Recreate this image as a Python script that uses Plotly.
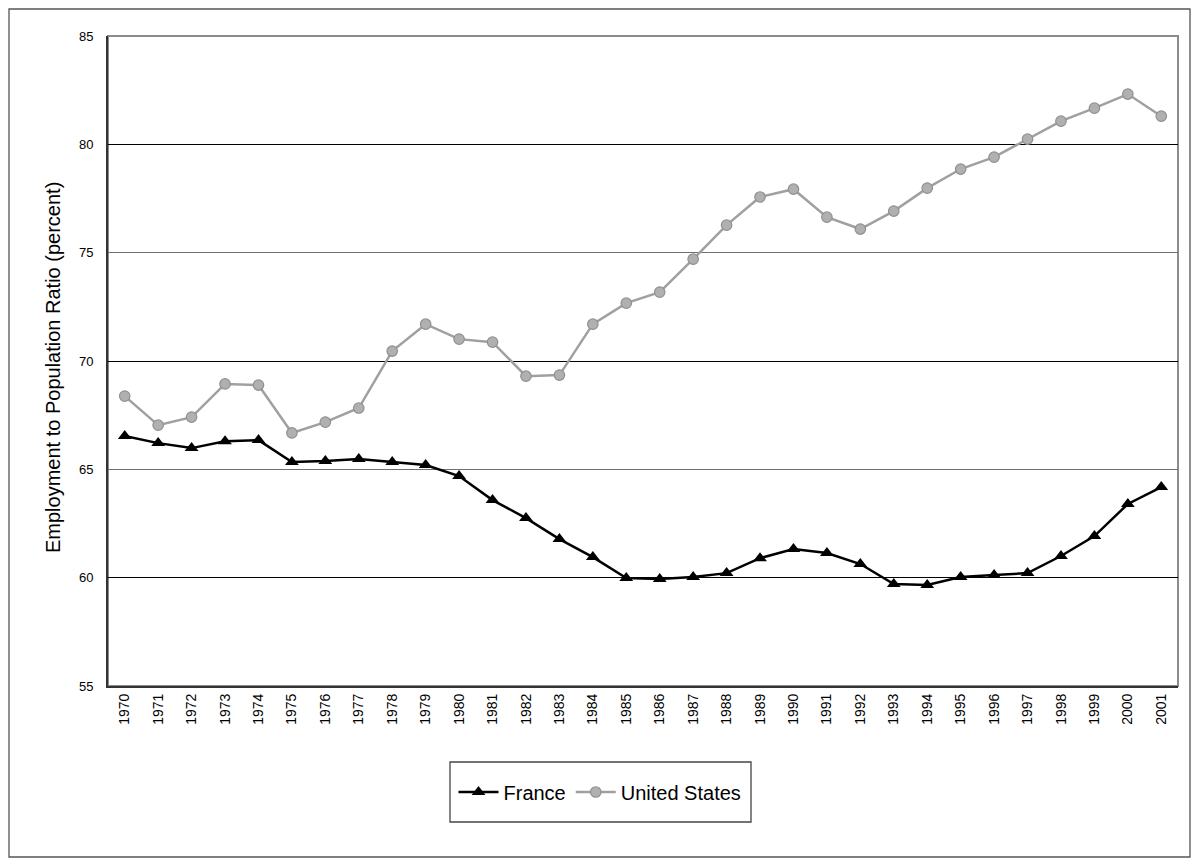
import plotly.graph_objects as go

years = [str(y) for y in range(1970, 2002)]

france = [66.54, 66.21, 65.98, 66.30, 66.35, 65.34, 65.38, 65.48, 65.34, 65.20,
          64.69, 63.58, 62.75, 61.78, 60.95, 59.98, 59.94, 60.03, 60.21, 60.90,
          61.32, 61.14, 60.63, 59.71, 59.66, 60.03, 60.12, 60.21, 61.00, 61.92,
          63.40, 64.18]

united_states = [68.38, 67.04, 67.41, 68.94, 68.89, 66.68, 67.18, 67.83, 70.46, 71.70,
                 71.01, 70.87, 69.30, 69.35, 71.70, 72.67, 73.18, 74.70, 76.27, 77.57,
                 77.93, 76.64, 76.09, 76.92, 77.98, 78.86, 79.41, 80.24, 81.07, 81.67,
                 82.32, 81.30]

y_ticks = [55, 60, 65, 70, 75, 80, 85]
dark_grid = [60, 70, 80]
y_title = "Employment to Population Ratio (percent)"

FONT = "Liberation Sans, Arial, sans-serif"

# page body adds 8px offset, so the figure is laid out 8px up/left
OFF = 8
PL, PT, PW, PH = 108 - OFF, 36 - OFF, 1070, 650


def px_x(x):
    return (x - OFF - PL) / PW


def px_y(y):
    return (PT + PH - (y - OFF)) / PH


fig = go.Figure()

fig.add_trace(go.Scatter(
    x=years, y=france, name="France", mode="lines+markers",
    line=dict(color="black", width=2.5),
    marker=dict(symbol="triangle-up", size=12, color="black"),
))
fig.add_trace(go.Scatter(
    x=years, y=united_states, name="United States", mode="lines+markers",
    line=dict(color="#a0a0a0", width=2.5),
    marker=dict(symbol="circle", size=10.5, color="#b0b0b0",
                line=dict(color="#909090", width=1.2)),
))

fig.update_layout(
    width=1200 - OFF, height=867 - OFF,
    margin=dict(l=PL, r=1200 - OFF - PL - PW, t=PT, b=867 - OFF - PT - PH),
    paper_bgcolor="white", plot_bgcolor="white",
    font=dict(family=FONT, color="black"),
    showlegend=True,
    legend=dict(orientation="h", x=px_x(600), xanchor="center", y=px_y(792), yanchor="middle",
                font=dict(size=20, family=FONT), itemwidth=40,
                bgcolor="rgba(0,0,0,0)"),
    xaxis=dict(
        type="category", range=[-0.5, len(years) - 0.5], tickangle=-90,
        tickfont=dict(size=14),
        showgrid=False, showline=True, linecolor="#333333", linewidth=2,
        ticks="", mirror=False, zeroline=False,
    ),
    yaxis=dict(
        range=[55, 85], tickvals=y_ticks, tickfont=dict(size=13),
        showgrid=True, gridcolor="#707070", gridwidth=1,
        showline=True, linecolor="#333333", linewidth=2, ticks="",
        zeroline=False, ticklabelstandoff=10,
    ),
    yaxis2=dict(
        range=[55, 85], overlaying="y", tickvals=dark_grid, showticklabels=False,
        showgrid=True, gridcolor="black", gridwidth=1.3, zeroline=False,
        showline=False, ticks="",
    ),
)

# invisible trace to activate the second y axis grid
fig.add_trace(go.Scatter(x=[years[0]], y=[None], yaxis="y2", showlegend=False,
                         hoverinfo="skip"))

fig.add_annotation(text=y_title, textangle=-90, xref="paper", yref="paper",
                   x=px_x(53), y=px_y(368), xanchor="center", yanchor="middle",
                   showarrow=False, font=dict(size=20))

# plot area frame (top/right in gray)
fig.add_shape(type="rect", xref="paper", yref="paper", x0=0, x1=1, y0=0, y1=1,
              line=dict(color="#8c8c8c", width=2), layer="below")
# legend box
fig.add_shape(type="rect", xref="paper", yref="paper",
              x0=px_x(450), x1=px_x(751), y0=px_y(822), y1=px_y(762),
              line=dict(color="#444444", width=1.3))
# outer chart border
fig.add_shape(type="rect", xref="paper", yref="paper",
              x0=px_x(9), x1=px_x(1190), y0=px_y(857), y1=px_y(9),
              line=dict(color="#555555", width=1.3))

fig.write_html("out.html")
